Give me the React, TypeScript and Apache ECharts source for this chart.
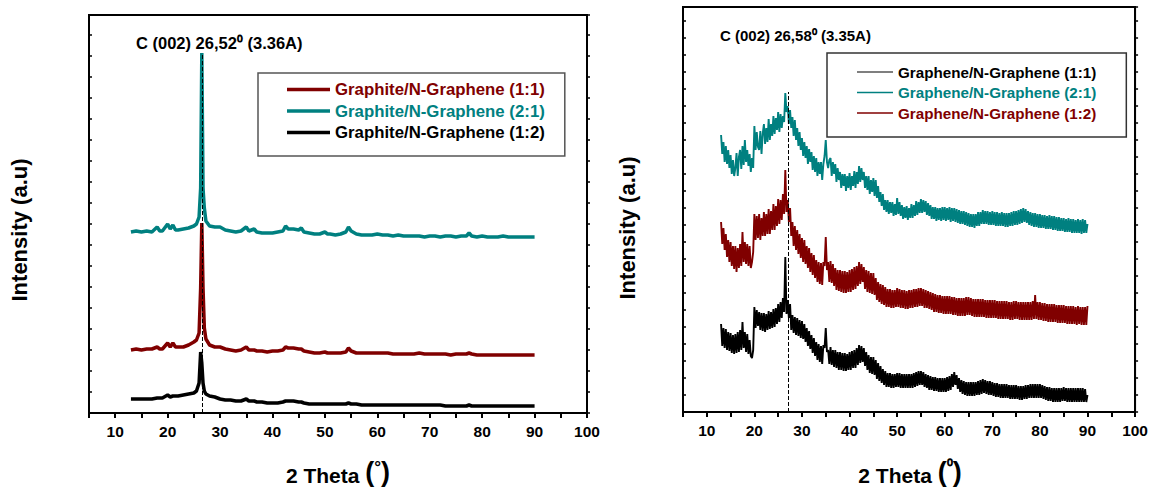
import React, { useEffect, useRef } from "react";
import * as echarts from "echarts";

// ---------- Left panel: Graphite / N-Graphene ----------
const LEFT_X = [
  13, 14, 15, 16, 17, 18, 18.5, 19, 20, 20.5,
  21, 21.5, 22, 23, 24, 25, 25.5, 26, 26.3, 26.52,
  26.75, 27, 27.3, 28, 29, 30, 31, 32, 33, 34,
  35, 35.5, 36, 36.5, 37, 38, 39, 40, 41, 42,
  42.5, 43, 44, 45, 45.5, 46, 47, 48, 49, 50,
  50.5, 51, 52, 53, 54, 54.5, 55, 56, 57, 58,
  59, 60, 61, 62, 63, 64, 65, 66, 67, 68,
  69, 70, 71, 72, 73, 74, 75, 76, 77, 77.5,
  78, 79, 80, 81, 82, 83, 84, 85, 86, 87,
  88, 89, 90,
];
const LEFT_RED_11 = [
  63, 64, 63, 64, 64, 66, 64, 64, 70, 66,
  70, 66, 66, 66, 68, 71, 73, 80, 125, 190,
  125, 85, 74, 68, 66, 66, 64, 63, 62, 63,
  66, 63, 63, 63, 62, 62, 61, 62, 62, 63,
  66, 65, 65, 64, 64, 62, 61, 60, 60, 61,
  60, 60, 60, 60, 61, 65, 62, 60, 60, 60,
  60, 60, 60, 60, 59, 59, 59, 59, 59, 60,
  59, 59, 59, 59, 59, 58, 59, 59, 59, 60,
  59, 58, 58, 58, 58, 58, 58, 58, 58, 58,
  58, 58, 58,
];
const LEFT_TEAL_21 = [
  181, 182, 181, 182, 181, 186, 182, 182, 189, 184,
  188, 183, 183, 184, 185, 187, 189, 196, 225, 360,
  225, 205, 192, 187, 186, 186, 183, 182, 181, 182,
  186, 182, 183, 184, 181, 180, 180, 180, 181, 182,
  187, 184, 184, 183, 185, 181, 180, 179, 179, 181,
  179, 179, 178, 179, 181, 186, 182, 179, 178, 178,
  178, 179, 178, 178, 177, 178, 177, 177, 177, 177,
  176, 177, 177, 176, 177, 177, 176, 177, 177, 180,
  177, 176, 177, 176, 176, 176, 177, 176, 176, 176,
  176, 176, 176,
];
const LEFT_BLACK_12 = [
  14, 14, 14, 14, 14, 15, 15, 15, 18, 16,
  17, 17, 17, 18, 19, 20, 22, 30, 61, 50,
  30, 22, 19, 17, 16, 14, 13, 13, 12, 12,
  14, 12, 12, 12, 11, 11, 10, 10, 10, 11,
  12, 12, 12, 11, 11, 10, 9, 9, 9, 9,
  9, 9, 9, 9, 9, 10, 9, 9, 8, 8,
  8, 8, 8, 8, 8, 8, 8, 8, 8, 8,
  8, 8, 8, 8, 7, 7, 7, 7, 7, 8,
  7, 7, 7, 7, 7, 7, 7, 7, 7, 7,
  7, 7, 7,
];

// ---------- Right panel: Graphene / N-Graphene (2θ sampled every 0.25°) ----------
const RIGHT_X = [
  13, 13.25, 13.5, 13.75, 14, 14.25, 14.5, 14.75,
  15, 15.25, 15.5, 15.75, 16, 16.25, 16.5, 16.75,
  17, 17.25, 17.5, 17.75, 18, 18.25, 18.5, 18.75,
  19, 19.25, 19.5, 19.75, 20, 20.25, 20.5, 20.75,
  21, 21.25, 21.5, 21.75, 22, 22.25, 22.5, 22.75,
  23, 23.25, 23.5, 23.75, 24, 24.25, 24.5, 24.75,
  25, 25.25, 25.5, 25.75, 26, 26.25, 26.5, 26.75,
  27, 27.25, 27.5, 27.75, 28, 28.25, 28.5, 28.75,
  29, 29.25, 29.5, 29.75, 30, 30.25, 30.5, 30.75,
  31, 31.25, 31.5, 31.75, 32, 32.25, 32.5, 32.75,
  33, 33.25, 33.5, 33.75, 34, 34.25, 34.5, 34.75,
  35, 35.25, 35.5, 35.75, 36, 36.25, 36.5, 36.75,
  37, 37.25, 37.5, 37.75, 38, 38.25, 38.5, 38.75,
  39, 39.25, 39.5, 39.75, 40, 40.25, 40.5, 40.75,
  41, 41.25, 41.5, 41.75, 42, 42.25, 42.5, 42.75,
  43, 43.25, 43.5, 43.75, 44, 44.25, 44.5, 44.75,
  45, 45.25, 45.5, 45.75, 46, 46.25, 46.5, 46.75,
  47, 47.25, 47.5, 47.75, 48, 48.25, 48.5, 48.75,
  49, 49.25, 49.5, 49.75, 50, 50.25, 50.5, 50.75,
  51, 51.25, 51.5, 51.75, 52, 52.25, 52.5, 52.75,
  53, 53.25, 53.5, 53.75, 54, 54.25, 54.5, 54.75,
  55, 55.25, 55.5, 55.75, 56, 56.25, 56.5, 56.75,
  57, 57.25, 57.5, 57.75, 58, 58.25, 58.5, 58.75,
  59, 59.25, 59.5, 59.75, 60, 60.25, 60.5, 60.75,
  61, 61.25, 61.5, 61.75, 62, 62.25, 62.5, 62.75,
  63, 63.25, 63.5, 63.75, 64, 64.25, 64.5, 64.75,
  65, 65.25, 65.5, 65.75, 66, 66.25, 66.5, 66.75,
  67, 67.25, 67.5, 67.75, 68, 68.25, 68.5, 68.75,
  69, 69.25, 69.5, 69.75, 70, 70.25, 70.5, 70.75,
  71, 71.25, 71.5, 71.75, 72, 72.25, 72.5, 72.75,
  73, 73.25, 73.5, 73.75, 74, 74.25, 74.5, 74.75,
  75, 75.25, 75.5, 75.75, 76, 76.25, 76.5, 76.75,
  77, 77.25, 77.5, 77.75, 78, 78.25, 78.5, 78.75,
  79, 79.25, 79.5, 79.75, 80, 80.25, 80.5, 80.75,
  81, 81.25, 81.5, 81.75, 82, 82.25, 82.5, 82.75,
  83, 83.25, 83.5, 83.75, 84, 84.25, 84.5, 84.75,
  85, 85.25, 85.5, 85.75, 86, 86.25, 86.5, 86.75,
  87, 87.25, 87.5, 87.75, 88, 88.25, 88.5, 88.75,
  89, 89.25, 89.5, 89.75, 90,
];
const RIGHT_BLACK_11 = [
  88, 66, 84, 64, 83, 62, 80, 61,
  79, 59, 77, 58, 78, 59, 80, 60,
  82, 62, 90, 64, 80, 60, 78, 58,
  72, 56, 54, 62, 105, 84, 102, 86,
  100, 82, 99, 81, 99, 80, 98, 82,
  101, 83, 100, 84, 103, 85, 104, 88,
  108, 90, 110, 94, 114, 100, 155, 98,
  112, 94, 108, 82, 97, 79, 95, 77,
  94, 76, 92, 74, 91, 73, 88, 70,
  84, 66, 81, 63, 77, 59, 74, 56,
  70, 52, 68, 50, 66, 48, 67, 64,
  84, 60, 62, 48, 65, 47, 62, 45,
  62, 44, 60, 42, 60, 42, 59, 41,
  59, 41, 58, 42, 60, 42, 61, 44,
  62, 44, 64, 47, 67, 49, 66, 50,
  64, 46, 60, 42, 57, 39, 55, 38,
  55, 37, 52, 33, 49, 31, 46, 29,
  43, 27, 41, 25, 39, 25, 39, 24,
  38, 24, 38, 25, 39, 25, 39, 24,
  38, 24, 38, 24, 38, 24, 38, 24,
  38, 24, 39, 25, 40, 26, 41, 27,
  41, 27, 40, 25, 38, 24, 37, 22,
  36, 22, 35, 21, 35, 21, 34, 20,
  34, 20, 34, 20, 34, 20, 35, 21,
  36, 22, 38, 25, 40, 27, 37, 23,
  34, 20, 32, 18, 31, 17, 30, 16,
  30, 16, 30, 16, 30, 16, 30, 17,
  31, 17, 32, 18, 33, 19, 32, 18,
  31, 17, 31, 17, 30, 16, 29, 15,
  29, 15, 28, 14, 28, 14, 28, 14,
  28, 14, 27, 13, 27, 13, 27, 13,
  27, 13, 26, 12, 26, 12, 26, 13,
  27, 13, 27, 14, 28, 14, 28, 14,
  28, 14, 28, 14, 28, 14, 27, 13,
  26, 12, 25, 11, 25, 11, 24, 10,
  24, 10, 24, 10, 24, 10, 24, 11,
  25, 11, 24, 10, 24, 10, 24, 10,
  24, 10, 24, 10, 24, 10, 24, 10,
  24, 10, 23, 10, 17,
];
const RIGHT_TEAL_21 = [
  277, 258, 270, 250, 266, 248, 262, 244,
  257, 238, 252, 236, 244, 259, 236, 255,
  262, 243, 266, 247, 272, 250, 262, 246,
  258, 240, 254, 244, 286, 262, 280, 265,
  262, 281, 258, 278, 288, 268, 284, 270,
  293, 272, 288, 276, 296, 278, 294, 282,
  300, 280, 298, 284, 296, 290, 319, 300,
  306, 288, 302, 284, 295, 276, 292, 272,
  284, 266, 280, 262, 274, 256, 270, 254,
  266, 248, 263, 250, 260, 242, 256, 240,
  254, 236, 250, 238, 250, 232, 248, 256,
  272, 250, 244, 252, 254, 236, 250, 238,
  248, 230, 244, 232, 240, 224, 238, 226,
  238, 221, 236, 224, 239, 222, 236, 226,
  241, 224, 240, 228, 246, 230, 244, 232,
  240, 224, 236, 222, 236, 218, 232, 220,
  234, 216, 232, 214, 226, 210, 220, 206,
  218, 202, 212, 200, 212, 198, 210, 199,
  210, 196, 208, 197, 214, 198, 210, 196,
  207, 193, 205, 194, 206, 192, 204, 194,
  208, 194, 207, 196, 211, 197, 210, 199,
  213, 199, 212, 200, 211, 197, 209, 196,
  207, 193, 205, 193, 205, 191, 204, 192,
  204, 191, 205, 192, 205, 191, 204, 192,
  205, 190, 204, 191, 204, 190, 203, 189,
  202, 188, 201, 188, 201, 187, 200, 186,
  199, 185, 198, 185, 198, 184, 198, 186,
  200, 186, 200, 188, 202, 188, 201, 188,
  201, 187, 200, 187, 201, 187, 200, 186,
  200, 186, 199, 186, 200, 186, 199, 185,
  199, 185, 199, 186, 200, 186, 201, 187,
  201, 187, 202, 188, 203, 189, 204, 190,
  203, 189, 201, 187, 200, 186, 199, 185,
  199, 185, 198, 184, 198, 184, 197, 184,
  197, 183, 196, 183, 197, 183, 196, 182,
  196, 182, 195, 181, 195, 181, 194, 181,
  194, 180, 193, 180, 194, 180, 193, 179,
  193, 179, 192, 179, 193, 179, 192, 178,
  193, 179, 192, 179, 188,
];
const RIGHT_RED_12 = [
  190, 168, 184, 162, 178, 155, 172, 150,
  170, 146, 166, 143, 166, 140, 164, 144,
  168, 146, 180, 150, 170, 148, 168, 146,
  166, 144, 150, 160, 198, 172, 196, 174,
  198, 172, 194, 176, 200, 176, 198, 178,
  203, 178, 201, 182, 208, 182, 206, 186,
  213, 188, 212, 192, 218, 198, 242, 200,
  212, 190, 204, 176, 190, 166, 186, 162,
  182, 158, 178, 154, 174, 150, 172, 148,
  166, 144, 164, 140, 159, 137, 157, 134,
  152, 130, 150, 128, 149, 127, 150, 146,
  175, 142, 150, 130, 151, 129, 148, 126,
  144, 122, 142, 121, 142, 120, 141, 119,
  141, 119, 140, 120, 142, 120, 143, 122,
  145, 123, 146, 126, 150, 128, 148, 130,
  145, 123, 142, 120, 141, 119, 139, 118,
  139, 117, 134, 112, 130, 110, 128, 108,
  127, 107, 125, 105, 123, 105, 123, 104,
  122, 104, 122, 105, 124, 105, 123, 104,
  122, 104, 122, 103, 121, 103, 122, 104,
  122, 104, 123, 105, 123, 105, 124, 106,
  124, 106, 123, 104, 122, 104, 121, 103,
  120, 102, 119, 100, 118, 100, 117, 99,
  117, 99, 116, 98, 116, 98, 116, 98,
  116, 98, 115, 97, 115, 97, 114, 96,
  114, 96, 114, 96, 114, 96, 115, 97,
  115, 97, 114, 96, 113, 95, 113, 95,
  113, 95, 113, 95, 113, 95, 112, 94,
  112, 94, 112, 94, 112, 94, 112, 94,
  111, 93, 111, 93, 111, 93, 111, 93,
  111, 93, 110, 92, 110, 92, 111, 93,
  111, 93, 110, 92, 110, 92, 110, 92,
  110, 92, 110, 92, 110, 92, 111, 93,
  117, 93, 110, 92, 110, 92, 109, 91,
  109, 91, 108, 90, 108, 90, 108, 90,
  108, 90, 107, 89, 107, 89, 107, 89,
  107, 89, 106, 88, 106, 88, 106, 88,
  106, 88, 105, 87, 106, 88, 105, 87,
  105, 87, 105, 87, 106,
];

const LEFT_NAMES = [
  "Graphite/N-Graphene (1:1)",
  "Graphite/N-Graphene (2:1)",
  "Graphite/N-Graphene (1:2)",
];
const RIGHT_NAMES = [
  "Graphene/N-Graphene (1:1)",
  "Graphene/N-Graphene (2:1)",
  "Graphene/N-Graphene (1:2)",
];
const LEFT_PEAK = 26.52;
const RIGHT_PEAK_LINE = 27.2;
const LEFT_NOTE = "C (002) 26,52\u2070 (3.36A)";
const RIGHT_NOTE = "C (002) 26,58\u2070 (3.35A)";

const RED = "#800000";
const TEAL = "#008080";
const BLACK = "#000000";
const SANS = "'Liberation Sans', Arial, sans-serif";

const zip = (xs: number[], ys: number[]) => xs.map((x, i) => [x, ys[i]]);

function xAxis(gridIndex: number) {
  return {
    type: "value",
    gridIndex,
    min: 5,
    max: 100,
    interval: 5,
    axisLine: { show: true, onZero: false, lineStyle: { color: "#000", width: 2 } },
    axisTick: { show: true, length: 5, lineStyle: { color: "#000", width: 2 } },
    axisLabel: {
      formatter: (v: number) => (v % 10 === 0 ? String(v) : ""),
      fontFamily: SANS,
      fontWeight: "bold",
      fontSize: 15.5,
      color: "#000",
      margin: 10,
    },
    splitLine: { show: false },
  };
}

function yAxis(gridIndex: number, max: number, interval: number, position: string) {
  return {
    type: "value",
    gridIndex,
    min: 0,
    max,
    interval,
    position,
    axisLine: { show: true, onZero: false, lineStyle: { color: "#000", width: 2 } },
    axisTick: { show: true, inside: position === "left", length: 3, lineStyle: { color: "#000", width: 1.5 } },
    axisLabel: { show: false },
    splitLine: { show: false },
  };
}

function line(name: string, xi: number, yi: number, xs: number[], ys: number[], color: string, width: number) {
  return {
    type: "line",
    name,
    xAxisIndex: xi,
    yAxisIndex: yi,
    data: zip(xs, ys),
    symbol: "none",
    showSymbol: false,
    lineStyle: { color, width },
    itemStyle: { color },
    emphasis: { disabled: true },
  };
}

function dashed(x: number, top: number) {
  return {
    silent: true,
    symbol: ["none", "none"],
    label: { show: false },
    lineStyle: { color: "#000", type: "dashed", width: 1 },
    data: [[{ coord: [x, 0] }, { coord: [x, top] }]],
  };
}

function rotatedTitle(x: number, y: number) {
  return {
    type: "text", x, y, rotation: Math.PI / 2,
    style: { text: "Intensity (a.u)", fontFamily: SANS, fontWeight: "bold", fontSize: 22, fill: "#000", align: "center", verticalAlign: "middle" },
  };
}

function xTitle(x: number, deg: string) {
  return {
    type: "text", x, y: 472,
    style: {
      text: "{a|2 Theta }{p|(}{o|" + deg + "}{p|)}",
      align: "center",
      verticalAlign: "middle",
      rich: {
        a: { fontFamily: SANS, fontWeight: "bold", fontSize: 21, fill: "#000", verticalAlign: "bottom" },
        p: { fontFamily: SANS, fontWeight: "bold", fontSize: 27, fill: "#000", verticalAlign: "bottom" },
        o: { fontFamily: SANS, fontWeight: "bold", fontSize: 17, fill: "#000", verticalAlign: "top" },
      },
    },
  };
}

export default function App() {
  const ref = useRef<HTMLDivElement>(null);
  useEffect(() => {
    if (!ref.current) return;
    const chart = echarts.init(ref.current, null, { renderer: "svg" });
    const leftRed = line(LEFT_NAMES[0], 0, 0, LEFT_X, LEFT_RED_11, RED, 3.5);
    const leftTeal = line(LEFT_NAMES[1], 0, 0, LEFT_X, LEFT_TEAL_21, TEAL, 3.5);
    const leftBlack: any = line(LEFT_NAMES[2], 0, 0, LEFT_X, LEFT_BLACK_12, BLACK, 3.5);
    leftBlack.markLine = dashed(LEFT_PEAK, 360);
    const rightBlack = line(RIGHT_NAMES[0], 1, 2, RIGHT_X, RIGHT_BLACK_11, BLACK, 1.9);
    const rightTeal = line(RIGHT_NAMES[1], 1, 2, RIGHT_X, RIGHT_TEAL_21, TEAL, 1.9);
    const rightRed: any = line(RIGHT_NAMES[2], 1, 2, RIGHT_X, RIGHT_RED_12, RED, 1.9);
    rightRed.markLine = dashed(RIGHT_PEAK_LINE, 320);

    chart.setOption({
      animation: false,
      backgroundColor: "#fff",
      grid: [
        { left: 89, top: 15, width: 498, height: 398, show: true, borderColor: "#000", borderWidth: 2 },
        { left: 683, top: 7, width: 454, height: 405, show: true, borderColor: "#000", borderWidth: 2 },
      ],
      xAxis: [xAxis(0), xAxis(1)],
      yAxis: [
        yAxis(0, 398, 21, "left"),
        yAxis(0, 398, 21, "right"),
        yAxis(1, 405, 17, "left"),
        yAxis(1, 405, 17, "right"),
      ],
      legend: [
        {
          left: 258,
          top: 73,
          orient: "vertical",
          padding: [8, 20, 15, 29],
          itemGap: 4.5,
          itemWidth: 43,
          itemHeight: 3.5,
          icon: "rect",
          borderColor: "#555",
          borderWidth: 1.5,
          borderRadius: 0,
          textStyle: { fontFamily: SANS, fontWeight: "bold", fontSize: 16.8, lineHeight: 16 },
          data: [
            { name: LEFT_NAMES[0], textStyle: { color: RED } },
            { name: LEFT_NAMES[1], textStyle: { color: TEAL } },
            { name: LEFT_NAMES[2], textStyle: { color: BLACK } },
          ],
        },
        {
          left: 827,
          top: 53,
          orient: "vertical",
          padding: [11, 30, 16, 30],
          itemGap: 4.5,
          itemWidth: 36,
          itemHeight: 1.5,
          icon: "rect",
          borderColor: "#333",
          borderWidth: 1.5,
          borderRadius: 0,
          textStyle: { fontFamily: SANS, fontWeight: "bold", fontSize: 15.2, lineHeight: 16 },
          data: [
            { name: RIGHT_NAMES[0], textStyle: { color: BLACK }, itemStyle: { color: "#555" } },
            { name: RIGHT_NAMES[1], textStyle: { color: TEAL } },
            { name: RIGHT_NAMES[2], textStyle: { color: RED } },
          ],
        },
      ],
      graphic: [
        rotatedTitle(19, 230),
        rotatedTitle(627, 228),
        xTitle(338, "\u00B0"),
        xTitle(910, "\u2070"),
        {
          type: "text", x: 136, y: 43,
          style: { text: LEFT_NOTE, fontFamily: SANS, fontWeight: "bold", fontSize: 16.5, fill: "#000", align: "left", verticalAlign: "middle" },
        },
        {
          type: "text", x: 720, y: 35,
          style: { text: RIGHT_NOTE, fontFamily: SANS, fontWeight: "bold", fontSize: 15, fill: "#000", align: "left", verticalAlign: "middle" },
        },
      ],
      series: [leftRed, leftTeal, leftBlack, rightBlack, rightTeal, rightRed],
    });
    return () => chart.dispose();
  }, []);
  return <div ref={ref} style={{ position: "absolute", left: 0, top: 0, width: 1151, height: 487 }} />;
}
